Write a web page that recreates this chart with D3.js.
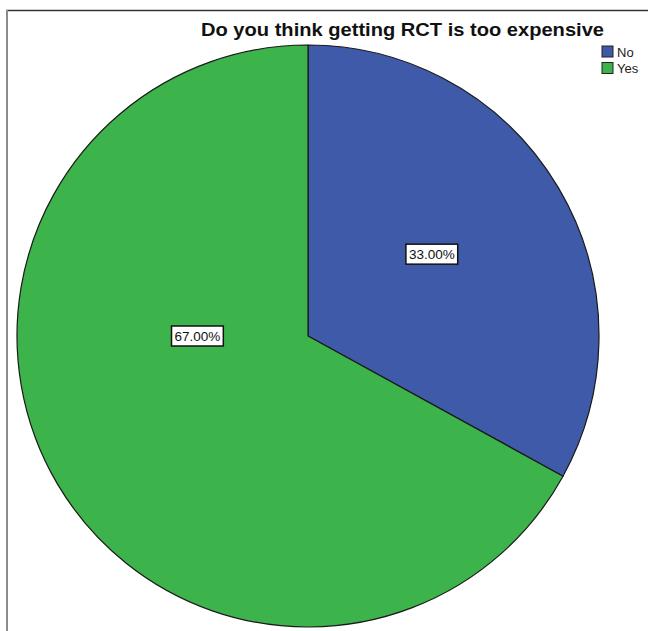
<!DOCTYPE html>
<html>
<head>
<meta charset="utf-8">
<script src="https://cdn.jsdelivr.net/npm/d3@7"></script>
<style>
  html, body { margin: 0; padding: 0; background: #fff; }
  svg { display: block; }
</style>
</head>
<body>
<svg id="chart" width="648" height="631"></svg>
<script>
// Survey answers and their shares (percent)
const categories = ["No", "Yes"];
const percents = [33.0, 67.0];
const sliceColors = ["#3e5aa8", "#3cb44b"];
const titleText = "Do you think getting RCT is too expensive";

const W = 648, H = 631;
const cx = 308, cy = 336, radius = 291;
const font = "Liberation Sans, Arial, sans-serif";

const svg = d3.select("#chart");

// Frame lines at the top and left edges
svg.append("line")
  .attr("x1", 6).attr("x2", W).attr("y1", 10.5).attr("y2", 10.5)
  .attr("stroke", "#333").attr("stroke-width", 1.5);
svg.append("line")
  .attr("x1", 7).attr("x2", 7).attr("y1", 10).attr("y2", H)
  .attr("stroke", "#8c8c8c").attr("stroke-width", 2);

// Title (slightly wide lettering)
svg.append("text")
  .attr("x", 201).attr("y", 36)
  .attr("font-family", font)
  .attr("font-weight", "bold")
  .attr("font-size", 19)
  .attr("textLength", 403)
  .attr("lengthAdjust", "spacingAndGlyphs")
  .attr("fill", "#111")
  .text(titleText);

// Pie
const data = categories.map((c, i) => ({ cat: c, value: percents[i] }));
const pie = d3.pie().value(d => d.value).sort(null);
const arcs = pie(data);
const color = d3.scaleOrdinal().domain(categories).range(sliceColors);
const arc = d3.arc().innerRadius(0).outerRadius(radius);

const g = svg.append("g").attr("transform", `translate(${cx},${cy})`);
g.selectAll("path.slice")
  .data(arcs)
  .enter().append("path")
  .attr("class", "slice")
  .attr("d", arc)
  .attr("fill", d => color(d.data.cat))
  .attr("stroke", "#1a1a1a")
  .attr("stroke-width", 1.2)
  .attr("stroke-linejoin", "round");

// Value labels: angle (radians from 12 o'clock, clockwise) and radius factor per slice
const labelPlacement = [
  { angle: d => (d.startAngle + d.endAngle) / 2 - 0.05, r: 0.51 },
  { angle: d => 1.5 * Math.PI, r: 0.38 }
];
const fmt = v => v.toFixed(2) + "%";

arcs.forEach((d, i) => {
  const p = labelPlacement[i];
  const a = p.angle(d);
  const lx = Math.sin(a) * radius * p.r;
  const ly = -Math.cos(a) * radius * p.r;
  const lg = g.append("g").attr("transform", `translate(${lx},${ly})`);
  const t = lg.append("text")
    .attr("text-anchor", "middle")
    .attr("dominant-baseline", "central")
    .attr("font-family", font)
    .attr("font-size", 13.5)
    .attr("fill", "#111")
    .text(fmt(d.data.value));
  const bb = t.node().getBBox();
  lg.insert("rect", "text")
    .attr("x", bb.x - 3).attr("y", -10)
    .attr("width", bb.width + 6).attr("height", 20)
    .attr("fill", "#fff")
    .attr("stroke", "#111")
    .attr("stroke-width", 1.5);
});

// Legend
const legend = svg.append("g").attr("transform", "translate(602,46)");
const items = legend.selectAll("g.item")
  .data(categories)
  .enter().append("g")
  .attr("class", "item")
  .attr("transform", (d, i) => `translate(0,${i * 16.5})`);
items.append("rect")
  .attr("width", 11).attr("height", 11)
  .attr("fill", d => color(d))
  .attr("stroke", "#222").attr("stroke-width", 1);
items.append("text")
  .attr("x", 15).attr("y", 10.5)
  .attr("font-family", font)
  .attr("font-size", 13)
  .attr("fill", "#222")
  .text(d => d);
</script>
</body>
</html>
